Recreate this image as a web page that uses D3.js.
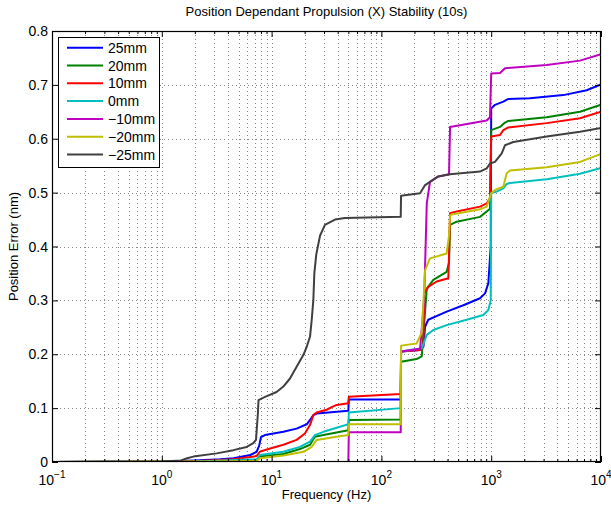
<!DOCTYPE html>
<html><head><meta charset="utf-8">
<script src="https://cdn.jsdelivr.net/npm/d3@7"></script>
<style>
body{margin:0;background:#fff}
text{font-family:"Liberation Sans",Arial,Helvetica,sans-serif;fill:#000}
</style>
</head><body>
<svg id="chart" width="611" height="506"></svg>
<script>
// ---------- data ----------
const titleText = "Position Dependant Propulsion (X) Stability (10s)";
const xLabelText = "Frequency (Hz)";
const yLabelText = "Position Error (nm)";
const seriesNames = ["25mm", "20mm", "10mm", "0mm", "\u221210mm", "\u221220mm", "\u221225mm"];
const seriesColors = ["#0000ff", "#008000", "#ff0000", "#00bfbf", "#bf00bf", "#bfbf00", "#404040"];
const xDecades = [0.1, 1, 10, 100, 1000, 10000];
const xDecadeExp = ["\u22121", "0", "1", "2", "3", "4"];
const yTicks = [0, 0.1, 0.2, 0.3, 0.4, 0.5, 0.6, 0.7, 0.8];
const yTickLabels = ["0", "0.1", "0.2", "0.3", "0.4", "0.5", "0.6", "0.7", "0.8"];

// [frequency Hz, position error nm]
const s25 = [[0.1,0],[1,0.001],[2,0.003],[3.4,0.005],[4.5,0.007],[6.4,0.013],[7.3,0.019],[7.7,0.03],[8.0,0.046],[8.7,0.050],[12.8,0.056],[16.9,0.062],[20.9,0.070],[22.4,0.078],[24.0,0.087],[25.7,0.090],[50,0.095],[50.5,0.116],[150,0.116],[151,0.205],[225,0.208],[241,0.214],[250,0.251],[267,0.264],[393,0.279],[558,0.291],[791,0.304],[879,0.313],[942,0.332],[990,0.40],[1000,0.656],[1083,0.663],[1290,0.669],[1432,0.674],[2254,0.675],[4540,0.681],[7410,0.690],[10000,0.701]];
const s20 = [[0.1,0],[2,0.001],[7.3,0.004],[7.7,0.010],[12.8,0.015],[18.1,0.024],[22.4,0.032],[24.8,0.047],[29.6,0.050],[50,0.059],[50.5,0.078],[150,0.079],[151,0.186],[209,0.191],[233,0.196],[250,0.28],[259,0.322],[297,0.338],[393,0.353],[413,0.37],[422,0.440],[485,0.446],[791,0.455],[910,0.465],[975,0.47],[1000,0.616],[1203,0.622],[1337,0.630],[1432,0.633],[3200,0.640],[6440,0.650],[10000,0.663]];
const s10 = [[0.1,0],[1,0.001],[2.2,0.002],[4.5,0.005],[7.3,0.011],[7.8,0.019],[9.7,0.025],[12.8,0.032],[16.9,0.041],[20.1,0.053],[22.4,0.069],[24.0,0.087],[25.7,0.092],[31.7,0.097],[35.3,0.102],[39.1,0.106],[50,0.109],[50.5,0.121],[150,0.126],[151,0.205],[225,0.208],[241,0.215],[245,0.313],[267,0.325],[319,0.335],[407,0.341],[415,0.40],[422,0.462],[485,0.465],[791,0.474],[910,0.480],[975,0.49],[1000,0.604],[1203,0.607],[1290,0.616],[1432,0.621],[3200,0.629],[6440,0.638],[10000,0.650]];
const s0 = [[0.1,0],[2,0.001],[7.3,0.005],[7.8,0.013],[12.8,0.019],[18.1,0.028],[22.4,0.038],[24.8,0.050],[29.6,0.056],[50,0.070],[50.5,0.092],[150,0.100],[151,0.205],[233,0.211],[259,0.236],[297,0.245],[393,0.254],[598,0.264],[848,0.273],[942,0.282],[990,0.30],[1000,0.499],[1122,0.502],[1290,0.508],[1384,0.516],[1484,0.518],[3200,0.525],[6440,0.535],[10000,0.546]];
const sm10 = [[0.1,0],[50,0],[50.5,0.055],[150,0.055],[151,0.205],[225,0.210],[245,0.30],[259,0.48],[277,0.520],[330,0.530],[413,0.534],[422,0.622],[910,0.634],[975,0.64],[1000,0.721],[1203,0.722],[1337,0.731],[3200,0.737],[6440,0.745],[10000,0.757]];
const sm20 = [[0.1,0],[2,0.001],[7.3,0.002],[7.8,0.007],[12.8,0.012],[19.5,0.019],[23.2,0.028],[25.7,0.041],[36.5,0.046],[50,0.050],[50.5,0.070],[150,0.070],[151,0.216],[209,0.220],[233,0.24],[250,0.356],[277,0.378],[393,0.387],[413,0.42],[422,0.458],[449,0.460],[791,0.469],[910,0.474],[1000,0.499],[1083,0.505],[1290,0.511],[1384,0.536],[1484,0.541],[3200,0.547],[6440,0.557],[10000,0.572]];
const sm25 = [[0.1,0],[1,0.001],[1.5,0.003],[1.7,0.007],[1.94,0.010],[3.16,0.016],[4.48,0.022],[5.93,0.028],[6.81,0.035],[7.21,0.041],[7.5,0.09],[7.6,0.115],[8.71,0.121],[11.1,0.130],[12.8,0.140],[14.7,0.155],[16.9,0.177],[19.5,0.199],[20.9,0.214],[22.4,0.233],[23.2,0.264],[24.0,0.301],[24.5,0.35],[25.5,0.385],[27.6,0.42],[30.6,0.44],[37.8,0.45],[46.6,0.453],[150,0.455],[151,0.494],[225,0.499],[250,0.514],[277,0.520],[330,0.530],[422,0.534],[791,0.539],[910,0.545],[975,0.554],[1083,0.557],[1247,0.573],[1337,0.588],[1590,0.594],[3200,0.604],[6440,0.613],[10000,0.620]];
const seriesData = [s25, s20, s10, s0, sm10, sm20, sm25];

// ---------- layout ----------
const L = 52, R = 601, T = 31, B = 462;
const svg = d3.select("#chart");
const x = d3.scaleLog().domain([0.1, 10000]).range([L, R]);
const y = d3.scaleLinear().domain([0, 0.8]).range([B, T]);

const minorX = [];
xDecades.slice(0, -1).forEach(d => { for (let k = 2; k <= 9; k++) minorX.push(d * k); });

// grid
const grid = svg.append("g").attr("stroke", "#888").attr("stroke-width", 1).attr("stroke-dasharray", "1,3").attr("fill", "none");
xDecades.concat(minorX).filter(v => v > 0.1 && v < 10000).forEach(v => {
  const px = Math.round(x(v)) + 0.5;
  grid.append("line").attr("x1", px).attr("x2", px).attr("y1", T).attr("y2", B);
});
yTicks.filter(v => v > 0 && v < 0.8).forEach(v => {
  const py = Math.round(y(v)) + 0.5;
  grid.append("line").attr("x1", L).attr("x2", R).attr("y1", py).attr("y2", py);
});

// series
svg.append("clipPath").attr("id", "clip").append("rect").attr("x", L).attr("y", T - 2).attr("width", R - L).attr("height", B - T + 2);
const line = d3.line().x(d => x(d[0])).y(d => y(d[1]));
const plot = svg.append("g").attr("clip-path", "url(#clip)");
seriesData.forEach((s, i) => {
  plot.append("path").datum(s).attr("d", line).attr("fill", "none")
    .attr("stroke", seriesColors[i]).attr("stroke-width", 2).attr("stroke-linejoin", "round");
});

// axes (inward ticks)
function styleAxis(g) { g.selectAll("text").remove(); g.select(".domain").remove(); g.selectAll("line").attr("stroke", "#000"); }
svg.append("g").attr("transform", `translate(0,${B})`).call(d3.axisBottom(x).tickValues(xDecades).tickSize(-6).tickFormat("")).call(styleAxis);
svg.append("g").attr("transform", `translate(0,${B})`).call(d3.axisBottom(x).tickValues(minorX).tickSize(-3).tickFormat("")).call(styleAxis);
svg.append("g").attr("transform", `translate(0,${T})`).call(d3.axisTop(x).tickValues(xDecades).tickSize(-6).tickFormat("")).call(styleAxis);
svg.append("g").attr("transform", `translate(0,${T})`).call(d3.axisTop(x).tickValues(minorX).tickSize(-3).tickFormat("")).call(styleAxis);
svg.append("g").attr("transform", `translate(${L},0)`).call(d3.axisLeft(y).tickValues(yTicks).tickSize(-6).tickFormat("")).call(styleAxis);
svg.append("g").attr("transform", `translate(${R},0)`).call(d3.axisRight(y).tickValues(yTicks).tickSize(-6).tickFormat("")).call(styleAxis);

// frame
svg.append("rect").attr("x", L + 0.5).attr("y", T + 0.5).attr("width", R - L - 1).attr("height", B - T - 1)
  .attr("fill", "none").attr("stroke", "#000").attr("stroke-width", 1.2);

// tick labels
xDecades.forEach((v, i) => {
  const t = svg.append("text").attr("x", x(v)).attr("y", 485).attr("text-anchor", "middle").attr("font-size", 14);
  t.append("tspan").text("10");
  t.append("tspan").attr("dy", -7).attr("font-size", 10).text(xDecadeExp[i]);
});
yTicks.forEach((v, i) => {
  svg.append("text").attr("x", L - 4).attr("y", y(v)).attr("dy", "0.36em").attr("text-anchor", "end").attr("font-size", 14).text(yTickLabels[i]);
});

// titles
svg.append("text").attr("x", (L + R) / 2).attr("y", 16).attr("text-anchor", "middle").attr("font-size", 13).text(titleText);
svg.append("text").attr("x", (L + R) / 2).attr("y", 499).attr("text-anchor", "middle").attr("font-size", 13).text(xLabelText);
svg.append("text").attr("transform", `translate(18,${(T + B) / 2}) rotate(-90)`).attr("text-anchor", "middle").attr("font-size", 13).text(yLabelText);

// legend
const lg = svg.append("g");
lg.append("rect").attr("x", 58.5).attr("y", 37.5).attr("width", 101).attr("height", 130).attr("fill", "#fff").attr("stroke", "#000").attr("stroke-width", 1);
seriesNames.forEach((n, i) => {
  const yy = 47.7 + i * 17.8;
  lg.append("line").attr("x1", 67).attr("x2", 103).attr("y1", yy).attr("y2", yy).attr("stroke", seriesColors[i]).attr("stroke-width", 2);
  lg.append("text").attr("x", 108).attr("y", yy).attr("dy", "0.36em").attr("font-size", 14).text(n);
});
</script>
</body></html>
